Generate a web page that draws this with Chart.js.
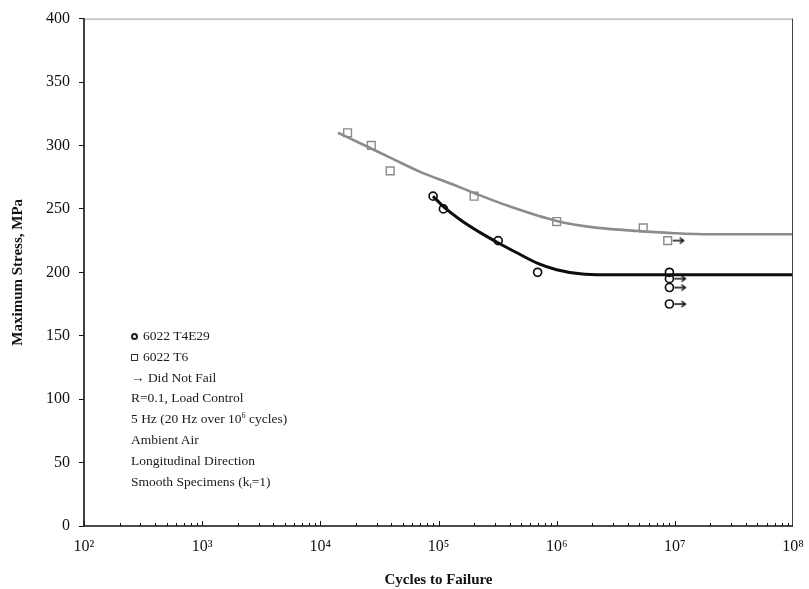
<!DOCTYPE html>
<html lang="en">
<head>
<meta charset="UTF-8">
<title>Maximum Stress vs Cycles to Failure</title>
<script src="https://cdn.jsdelivr.net/npm/chart.js"></script>
<style>
* { margin: 0; padding: 0; box-sizing: border-box; }
body { background: #fff; width: 809px; height: 589px; overflow: hidden; font-family: 'Liberation Serif', serif; }
.wrap { position: relative; width: 809px; height: 589px; }
.notes {
    position: absolute; left: 131px; top: 326px;
    font-size: 13.5px; line-height: 20.8px; color: #1a1a1a;
}
.notes sup { font-size: 8px; vertical-align: 5px; line-height: 0; }
.notes sub { font-size: 8px; vertical-align: -2px; line-height: 0; }
.circ { display: inline-block; width: 7px; height: 7px; border: 2px solid #222; border-radius: 50%; margin-right: 5px; }
.sq { display: inline-block; width: 7px; height: 7px; border: 1px solid #333; margin-right: 5px; }
</style>
</head>
<body>
<div class="wrap">
    <canvas id="snChart" width="809" height="589"></canvas>
    <div class="notes">
        <div><span class="circ"></span>6022 T4E29</div>
        <div><span class="sq"></span>6022 T6</div>
        <div>&rarr; Did Not Fail</div>
        <div>R=0.1, Load Control</div>
        <div>5 Hz (20 Hz over 10<sup>6</sup> cycles)</div>
        <div>Ambient Air</div>
        <div>Longitudinal Direction</div>
        <div>Smooth Specimens (k<sub>t</sub>=1)</div>
    </div>
</div>
<script>
// tick labels (powers of ten on the cycles axis)
const xTickLabels = ['10\u00B2', '10\u00B3', '10\u2074', '10\u2075', '10\u2076', '10\u2077', '10\u2078'];

// 6022 T4E29 (circles)
const t4Cycles = [90000, 110000, 320000, 690000, 9000000];
const t4Stress = [260, 250, 225, 200, 200];
const t4RunoutCycles = [9000000, 9000000, 9000000];
const t4RunoutStress = [195, 188, 175];

// 6022 T6 (squares)
const t6Cycles = [17000, 27000, 39000, 200000, 1000000, 5400000];
const t6Stress = [310, 300, 280, 260, 240, 235];
const t6RunoutCycles = [8700000];
const t6RunoutStress = [225];

// fitted curves
const t6FitCycles = [14100, 25100, 39800, 70800, 126000, 200000, 398000, 1000000, 2240000, 5010000, 10000000, 20000000, 100000000];
const t6FitStress = [310, 299, 290, 279, 270, 262.5, 252, 240.5, 235, 232.5, 230.8, 230, 230];
const t4FitCycles = [89800, 109600, 158000, 224000, 316000, 447000, 692000, 1000000, 1580000, 2510000, 100000000];
const t4FitStress = [260, 252, 240.5, 231.5, 223.5, 216, 207, 202, 198.8, 198, 198];

const pts = (xs, ys) => xs.map((x, i) => ({ x: x, y: ys[i] }));

// arrow marker used for the "did not fail" points
function arrowImage() {
    const c = document.createElement('canvas');
    c.width = 40; c.height = 12;
    const g = c.getContext('2d');
    g.strokeStyle = '#111'; g.lineWidth = 1.4;
    g.beginPath();
    g.moveTo(25, 6); g.lineTo(36, 6);
    g.moveTo(32, 3); g.lineTo(36, 6); g.lineTo(32, 9);
    g.stroke();
    return c;
}
const arrow = arrowImage();

const frame = {
    id: 'frame',
    afterDraw(chart) {
        const { ctx, chartArea: a, scales } = chart;
        ctx.save();
        ctx.strokeStyle = '#999'; ctx.lineWidth = 1;
        ctx.beginPath(); ctx.moveTo(a.left, a.top + 0.5); ctx.lineTo(a.right, a.top + 0.5); ctx.stroke();
        ctx.strokeStyle = '#444';
        ctx.beginPath(); ctx.moveTo(a.right - 0.5, a.top); ctx.lineTo(a.right - 0.5, a.bottom); ctx.stroke();
        ctx.strokeStyle = '#111'; ctx.lineWidth = 1.6;
        ctx.beginPath();
        ctx.moveTo(a.left, a.top); ctx.lineTo(a.left, a.bottom); ctx.lineTo(a.right, a.bottom);
        ctx.stroke();
        // inward log ticks on the cycles axis
        ctx.lineWidth = 1;
        const xs = scales.x;
        for (let p = 2; p < 8; p++) {
            for (let m = 1; m <= 9; m++) {
                const px = Math.round(xs.getPixelForValue(m * Math.pow(10, p))) + 0.5;
                const len = m === 1 ? 5 : 3;
                ctx.beginPath(); ctx.moveTo(px, a.bottom); ctx.lineTo(px, a.bottom - len); ctx.stroke();
            }
        }
        ctx.restore();
    }
};

new Chart(document.getElementById('snChart'), {
    type: 'scatter',
    data: {
        datasets: [
            { type: 'line', data: pts(t6FitCycles, t6FitStress), borderColor: '#8c8c8c', borderWidth: 2.6, pointRadius: 0, cubicInterpolationMode: 'monotone', fill: false },
            { type: 'line', data: pts(t4FitCycles, t4FitStress), borderColor: '#0d0d0d', borderWidth: 3, pointRadius: 0, cubicInterpolationMode: 'monotone', fill: false },
            { data: pts(t6Cycles, t6Stress), pointStyle: 'rect', pointRadius: 5.5, borderColor: '#8a8a8a', borderWidth: 1.4, backgroundColor: '#fff' },
            { data: pts(t6RunoutCycles, t6RunoutStress), pointStyle: 'rect', pointRadius: 5.5, borderColor: '#8a8a8a', borderWidth: 1.4, backgroundColor: '#fff' },
            { data: pts(t6RunoutCycles, t6RunoutStress), pointStyle: arrow },
            { data: pts(t4Cycles, t4Stress), pointStyle: 'circle', pointRadius: 4, borderColor: '#111', borderWidth: 1.7, backgroundColor: '#fff' },
            { data: pts(t4RunoutCycles, t4RunoutStress), pointStyle: 'circle', pointRadius: 4, borderColor: '#111', borderWidth: 1.7, backgroundColor: '#fff' },
            { data: pts(t4RunoutCycles, t4RunoutStress), pointStyle: arrow }
        ]
    },
    options: {
        responsive: false,
        animation: false,
        events: [],
        layout: { padding: { top: 18, right: 16, left: 0, bottom: 0 } },
        plugins: { legend: { display: false }, tooltip: { enabled: false } },
        scales: {
            x: {
                type: 'logarithmic',
                min: 100, max: 100000000,
                afterFit: s => { s.height = 63; },
                afterBuildTicks: s => {
                    s.ticks = [2, 3, 4, 5, 6, 7, 8].map(p => ({ value: Math.pow(10, p), major: true }));
                },
                grid: { display: false },
                border: { display: false },
                ticks: {
                    autoSkip: false, maxRotation: 0, padding: 3, color: '#111',
                    font: { family: 'Liberation Serif', size: 16 },
                    callback: (v, i) => xTickLabels[i]
                },
                title: {
                    display: true, text: 'Cycles to Failure', color: '#111',
                    font: { family: 'Liberation Serif', size: 15, weight: 'bold' },
                    padding: { top: 0, bottom: 0 }
                }
            },
            y: {
                min: 0, max: 400,
                afterFit: s => { s.width = 84; },
                grid: { drawOnChartArea: false, tickLength: 5, tickColor: '#111' },
                border: { display: false },
                ticks: {
                    stepSize: 50, padding: 9, color: '#111',
                    font: { family: 'Liberation Serif', size: 16 }
                },
                title: {
                    display: true, text: 'Maximum Stress, MPa', color: '#111',
                    font: { family: 'Liberation Serif', size: 15, weight: 'bold' },
                    padding: { top: 9, bottom: 0 }
                }
            }
        }
    },
    plugins: [frame]
});
</script>
</body>
</html>
